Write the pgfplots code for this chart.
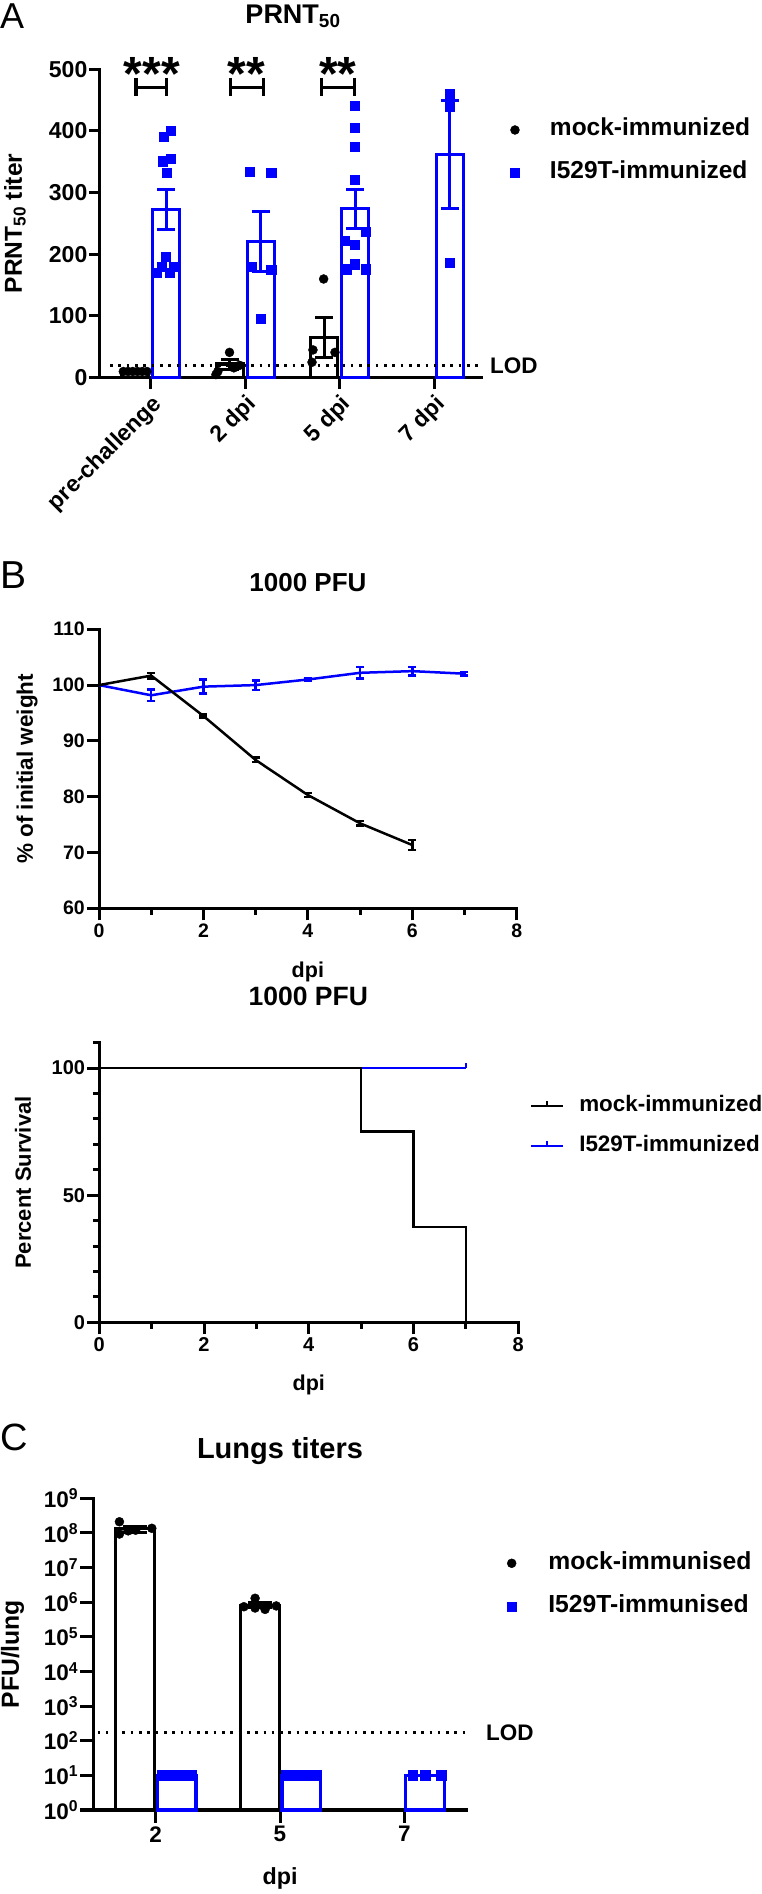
\documentclass[border=0pt]{standalone}
\usepackage{pgfplots}
\pgfplotsset{compat=1.18}
\usepackage{fontspec}
\setmainfont{Liberation Sans}
\newcommand{\fs}[1]{\fontsize{#1}{#1}\selectfont\bfseries}
\definecolor{pblue}{RGB}{0,0,255}
\pgfplotsset{
  myaxis/.style={
    scale only axis, anchor=south west, clip=false,
    axis x line=bottom, axis y line=left,
    axis line style={line width=3pt, -, line cap=rect},
    tick style={line width=3pt, black},
    minor tick style={line width=3pt, black},
    tick align=outside,
    major tick length=12pt, minor tick length=6.5pt,
    /pgf/number format/assume math mode=true,
    ticklabel style={font=\fs{20}},
    yticklabel style={inner xsep=2pt},
    xlabel style={anchor=center, font=\fs{22}},
    ylabel style={anchor=center, font=\fs{22}},
    legend cell align=left,
  },
  lod/.style={line width=2.6pt, dash pattern=on 2.6pt off 5.7pt, black},
}
\begin{document}
\begin{tikzpicture}
\useasboundingbox (0,0) rectangle (762pt,1894pt);

% ---------------- Panel A ----------------
\begin{axis}[myaxis, at={(100pt,1516.3pt)}, width=381.7pt, height=308.4pt,
  xmin=-0.537, xmax=3.503, ymin=0, ymax=500,
  xtick={0,1,2,3}, xticklabels={pre-challenge,2 dpi,5 dpi,7 dpi},
  ytick={0,100,200,300,400,500},
  major tick length=11pt,
  ticklabel style={font=\fs{23}},
  yticklabel style={inner xsep=1.5pt},
  xticklabel style={rotate=45, anchor=north east},
  ylabel={PRNT\textsubscript{50} titer},
  ylabel style={at={(axis description cs:-0.223,0.5)}, font=\fs{24.5}},
  legend style={draw=none, fill=none, inner sep=0pt, outer sep=0pt,
    at={(1.0741,0.8388)}, anchor=north west, row sep=21pt, column sep=0pt,
    font=\fs{24.5}, nodes={inner sep=0pt, text height=17pt, text depth=5pt}},
  legend image code/.code={\path[draw=none, fill=none] (-5pt,0pt) (35pt,0pt); \draw[#1] plot coordinates {(0pt,0pt)};},
]
\addplot[ybar, bar width=0.286, bar shift=0pt, black, fill=white, line width=3.3pt, forget plot,
  error bars/.cd, y dir=both, y explicit, error bar style={line width=3pt, black},
  error mark options={rotate=90, line width=3pt, mark size=9pt, black}]
  coordinates {(-0.164,10) +- (0,0) (0.836,22) +- (0,8) (1.836,65) +- (0,32)};
\addplot[ybar, bar width=0.286, bar shift=0pt, pblue, fill=white, line width=3.3pt, forget plot,
  error bars/.cd, y dir=both, y explicit, error bar style={line width=3pt, pblue},
  error mark options={rotate=90, line width=3pt, mark size=9pt, pblue}]
  coordinates {(0.164,272.6) +- (0,31.8) (1.164,221) +- (0,48.5) (2.164,274) +- (0,31.5) (3.164,362) +- (0,88)};
\addplot[lod, forget plot] coordinates {(-0.43,20) (3.503,20)};
\addplot[only marks, mark=*, mark size=4.5pt, black] coordinates {
 (-0.29,10) (-0.24,10) (-0.19,10) (-0.14,10) (-0.09,10) (-0.04,10)
 (0.834,41) (0.71,10) (0.94,20) (0.69,5) (0.88,16)
 (1.83,160) (1.717,45) (1.95,41) (1.707,25)};
\addlegendentry{mock-immunized}
\addplot[only marks, mark=square*, mark size=4.6pt, pblue] coordinates {
 (0.159,196) (0.116,180) (0.239,180) (0.063,170) (0.204,170) (0.133,391) (0.212,401) (0.123,351) (0.212,355) (0.169,332)
 (1.046,334) (1.275,332) (1.063,180) (1.275,175) (1.162,95)
 (2.162,441) (2.162,405) (2.162,375) (2.162,321) (2.053,222) (2.162,216) (2.272,237) (2.162,184) (2.071,176) (2.272,176)
 (3.162,460) (3.162,440) (3.162,187)};
\addlegendentry{I529T-immunized}
% significance brackets
\draw[line width=3.3pt] (axis cs:-0.155,486) -- (axis cs:-0.155,456) (axis cs:-0.155,471) -- (axis cs:0.17,471) (axis cs:0.17,486) -- (axis cs:0.17,456);
\draw[line width=3.3pt] (axis cs:0.845,486) -- (axis cs:0.845,456) (axis cs:0.845,471) -- (axis cs:1.19,471) (axis cs:1.19,486) -- (axis cs:1.19,456);
\draw[line width=3.3pt] (axis cs:1.81,486) -- (axis cs:1.81,456) (axis cs:1.81,471) -- (axis cs:2.16,471) (axis cs:2.16,486) -- (axis cs:2.16,456);
\node[font=\fs{48}, anchor=base, inner sep=0pt] at (axis cs:0.01,465) {***};
\node[font=\fs{48}, anchor=base, inner sep=0pt] at (axis cs:1.01,465) {**};
\node[font=\fs{48}, anchor=base, inner sep=0pt] at (axis cs:1.98,465) {**};
\node[font=\fs{22.5}, anchor=west, inner sep=0pt] at (axis cs:3.59,20) {LOD};
\end{axis}
\node[font=\fs{27}, anchor=base, inner sep=0pt] at (293pt,1870.7pt) {PRNT\textsubscript{50}};
\node[font=\fontsize{36}{36}\selectfont, anchor=base west, inner sep=0pt] at (0pt,1865pt) {A};

% ---------------- Panel B: weight ----------------
\begin{axis}[myaxis, at={(99pt,985.7pt)}, width=417.7pt, height=279pt,
  xmin=0, xmax=8, ymin=60, ymax=110,
  xtick={0,2,4,6,8}, minor xtick={1,3,5,7},
  ytick={60,70,80,90,100,110},
  ticklabel style={font=\fs{19.5}},
  xlabel={dpi}, xlabel style={at={(axis description cs:0.5,-0.227)}, font=\fs{21.5}},
  ylabel={\% of initial weight}, ylabel style={at={(axis description cs:-0.172,0.5)}, font=\fs{22.5}},
]
\addplot[pblue, line width=2.5pt, mark=none,
  error bars/.cd, y dir=both, y explicit, error bar style={line width=2.5pt, pblue},
  error mark options={rotate=90, line width=2.5pt, mark size=4pt, pblue}]
  coordinates {(0,100) +- (0,0) (1,98.17) +- (0,1.0) (2,99.72) +- (0,1.25) (3,100.0) +- (0,0.85)
  (4,101.0) +- (0,0.3) (5,102.2) +- (0,1.0) (6,102.5) +- (0,0.75) (7,102.04) +- (0,0.3)};
\addplot[black, line width=2.5pt, mark=none,
  error bars/.cd, y dir=both, y explicit, error bar style={line width=2.5pt, black},
  error mark options={rotate=90, line width=2.5pt, mark size=4pt, black}]
  coordinates {(0,100) +- (0,0) (1,101.7) +- (0,0.5) (2,94.46) +- (0,0.3) (3,86.58) +- (0,0.4)
  (4,80.3) +- (0,0.4) (5,75.23) +- (0,0.4) (6,71.34) +- (0,0.9)};
\end{axis}
\node[font=\fs{26}, anchor=base, inner sep=0pt] at (308pt,1302.3pt) {1000 PFU};
\node[font=\fontsize{39}{39}\selectfont, anchor=base west, inner sep=0pt] at (0pt,1305.7pt) {B};

% ---------------- Panel B: survival ----------------
\begin{axis}[myaxis, at={(99.3pt,571.7pt)}, width=419pt, height=279.6pt,
  xmin=0, xmax=8, ymin=0, ymax=110,
  xtick={0,2,4,6,8}, minor xtick={1,3,5,7},
  ytick={0,50,100}, minor ytick={10,20,30,40,60,70,80,90,110},
  ticklabel style={font=\fs{20}},
  xlabel={dpi}, xlabel style={at={(axis description cs:0.5,-0.224)}, font=\fs{21.5}},
  ylabel={Percent Survival}, ylabel style={at={(axis description cs:-0.182,0.5)}, font=\fs{22}},
  reverse legend,
  legend style={draw=none, fill=none, inner sep=0pt, outer sep=0pt,
    at={(1.0279,0.8112)}, anchor=north west, row sep=19pt, column sep=0pt,
    font=\fs{22.4}, nodes={inner sep=0pt, text height=16pt, text depth=5pt}},
  legend image code/.code={\draw[#1] (0pt,0pt) -- (31.7pt,0pt) (15.8pt,0pt) -- (15.8pt,5pt); \path[draw=none, fill=none] (0pt,0pt) (48pt,0pt);},
]
\addplot[pblue, line width=2pt, mark=none] coordinates {(0,100) (7,100)};
\addlegendentry{I529T-immunized}
\addplot[pblue, line width=2pt, mark=none, forget plot] coordinates {(7,100) (7,102.2)};
\addplot[black, line width=2.6pt, mark=none] coordinates {(0,100) (5,100) (5,75) (6,75) (6,37.5) (7,37.5) (7,0)};
\addlegendentry{mock-immunized}
\end{axis}
\node[font=\fs{26.5}, anchor=base, inner sep=0pt] at (308.3pt,888pt) {1000 PFU};

% ---------------- Panel C ----------------
\begin{axis}[myaxis, at={(93.3pt,84pt)}, width=373.4pt, height=311.7pt,
  ymode=log, log basis y=10, ymin=1, ymax=1e9, yminorticks=false,
  xmin=-0.5, xmax=2.5, xtick={0,1,2}, xticklabels={2,5,7},
  ytick={1,10,100,1000,1e4,1e5,1e6,1e7,1e8,1e9},
  yticklabels={10\textsuperscript{0},10\textsuperscript{1},10\textsuperscript{2},10\textsuperscript{3},10\textsuperscript{4},10\textsuperscript{5},10\textsuperscript{6},10\textsuperscript{7},10\textsuperscript{8},10\textsuperscript{9}},
  major tick length=13pt,
  ticklabel style={font=\fs{22.5}},
  xlabel={dpi}, xlabel style={at={(axis description cs:0.5,-0.219)}, font=\fs{23.3}},
  ylabel={PFU/lung}, ylabel style={at={(axis description cs:-0.216,0.5)}, font=\fs{24.7}},
  legend style={draw=none, fill=none, inner sep=0pt, outer sep=0pt,
    at={(1.1071,0.8268)}, anchor=north west, row sep=21.4pt, column sep=0pt,
    font=\fs{24.7}, nodes={inner sep=0pt, text height=17pt, text depth=5pt}},
  legend image code/.code={\path[draw=none, fill=none] (-5pt,0pt) (36.6pt,0pt); \draw[#1] plot coordinates {(0pt,0pt)};},
]
\addplot[ybar, bar width=0.312, bar shift=0pt, black, fill=white, line width=3pt, forget plot,
  error bars/.cd, y dir=both, y explicit, error bar style={line width=3pt, black},
  error mark options={rotate=90, line width=3pt, mark size=12pt, black}]
  coordinates {(-0.164,1.3e8) +- (0,2.5e7) (0.838,8.3e5) +- (0,1.2e5)};
\addplot[ybar, bar width=0.312, bar shift=0pt, pblue, fill=white, line width=3.3pt, forget plot]
  coordinates {(0.17,10) (1.172,10) (2.166,10)};
\addplot[lod, forget plot] coordinates {(-0.466,170) (2.506,170)};
\addplot[only marks, mark=*, mark size=4.5pt, black] coordinates {
 (-0.29,2.1e8) (-0.29,9.3e7) (-0.16,1.2e8) (-0.03,1.36e8) (-0.22,1.15e8)
 (0.80,1.3e6) (0.71,7.4e5) (0.88,6.2e5) (0.97,7.8e5) (0.80,6.8e5)};
\addlegendentry{mock-immunised}
\addplot[only marks, mark=square*, mark size=4.8pt, pblue] coordinates {
 (0.05,10) (0.11,10) (0.17,10) (0.23,10) (0.29,10)
 (1.05,10) (1.11,10) (1.17,10) (1.23,10) (1.29,10)
 (2.066,10) (2.168,10) (2.294,10)};
\addlegendentry{I529T-immunised}
\node[font=\fs{22.5}, anchor=west, inner sep=0pt] at (axis cs:2.654,170) {LOD};
\end{axis}
\node[font=\fs{29}, anchor=base, inner sep=0pt] at (280pt,435.7pt) {Lungs titers};
\node[font=\fontsize{38}{38}\selectfont, anchor=base west, inner sep=0pt] at (0pt,443pt) {C};

\end{tikzpicture}
\end{document}
